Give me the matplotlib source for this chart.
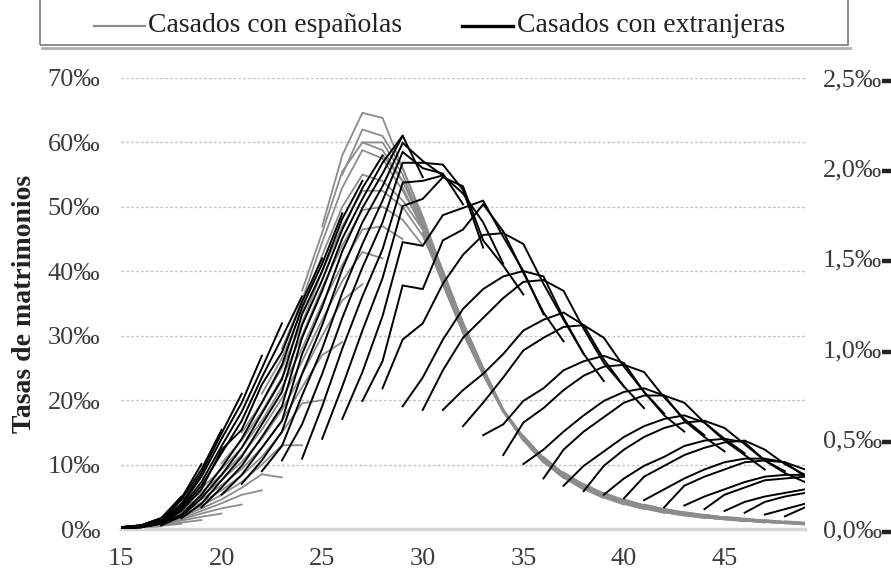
import matplotlib
matplotlib.use("Agg")
import matplotlib.pyplot as plt
from matplotlib.lines import Line2D
from matplotlib.patches import Rectangle
import numpy as np

plt.rcParams['font.family'] = ['Liberation Serif', 'DejaVu Serif']

edades = list(range(15, 50))

# tasas (‰) por año de observación (filas) y edad (columnas 15..49)
# hombres casados con españolas, eje izquierdo
espanolas = [
    [0.2, 0.6, 1.5, 3.4, 6.3, 10.2, 15.0, 21.0, 28.0, 37.0, 47.0, 55.0, 60.0, 58.0, 53.0, 46.0, 38.0, 30.5, 24.0, 18.5, 14.5, 11.2, 8.8, 7.0, 5.6, 4.6, 3.8, 3.1, 2.6, 2.2, 1.9, 1.6, 1.4, 1.2, 1.0],
    [0.2, 0.5, 1.3, 3.0, 5.7, 9.3, 13.8, 19.6, 26.5, 35.5, 46.0, 58.0, 62.0, 60.0, 54.0, 46.5, 38.0, 30.5, 24.0, 18.5, 14.3, 11.0, 8.6, 6.9, 5.5, 4.5, 3.7, 3.1, 2.6, 2.2, 1.8, 1.6, 1.3, 1.1, 1.0],
    [0.2, 0.5, 1.2, 2.7, 5.1, 8.4, 12.6, 18.2, 25.0, 34.0, 44.5, 55.5, 64.6, 61.0, 55.0, 47.0, 38.5, 30.5, 24.0, 18.5, 14.3, 11.0, 8.6, 6.8, 5.4, 4.4, 3.6, 3.0, 2.5, 2.1, 1.8, 1.5, 1.3, 1.1, 0.9],
    [0.15, 0.4, 1.1, 2.4, 4.6, 7.6, 11.5, 16.8, 23.5, 32.0, 42.5, 53.0, 60.0, 63.8, 56.0, 47.5, 38.5, 30.5, 24.0, 18.3, 14.2, 10.9, 8.5, 6.7, 5.3, 4.3, 3.5, 2.9, 2.4, 2.0, 1.7, 1.5, 1.3, 1.1, 0.9],
    [0.15, 0.4, 1.0, 2.1, 4.1, 6.8, 10.4, 15.4, 22.0, 30.0, 40.0, 50.0, 58.8, 58.8, 56.0, 48.0, 39.0, 31.0, 24.0, 18.3, 14.0, 10.8, 8.4, 6.6, 5.2, 4.2, 3.4, 2.8, 2.3, 2.0, 1.7, 1.4, 1.2, 1.0, 0.9],
    [0.1, 0.3, 0.9, 1.9, 3.6, 6.0, 9.3, 14.0, 20.3, 28.0, 37.5, 47.0, 55.0, 57.5, 54.0, 48.5, 39.5, 31.0, 24.0, 18.2, 14.0, 10.7, 8.3, 6.5, 5.1, 4.1, 3.4, 2.8, 2.3, 1.9, 1.6, 1.4, 1.2, 1.0, 0.8],
    [0.1, 0.3, 0.8, 1.7, 3.2, 5.3, 8.3, 12.6, 18.5, 26.0, 35.0, 44.0, 52.5, 54.0, 52.5, 48.0, 40.0, 31.5, 24.5, 18.2, 13.9, 10.6, 8.2, 6.4, 5.0, 4.1, 3.3, 2.7, 2.2, 1.9, 1.6, 1.4, 1.2, 1.0, 0.8],
    [0.1, 0.25, 0.7, 1.5, 2.8, 4.6, 7.3, 11.2, 16.8, 24.0, 32.5, 41.0, 49.5, 52.5, 51.0, 47.0, 40.0, 32.0, 24.5, 18.2, 13.8, 10.5, 8.1, 6.3, 5.0, 4.0, 3.3, 2.7, 2.2, 1.8, 1.6, 1.3, 1.1, 1.0, 0.8],
    [0.1, 0.2, 0.6, 1.3, 2.4, 4.0, 6.4, 10.0, 15.0, 22.0, 30.0, 38.5, 46.5, 50.0, 50.0, 46.5, 40.0, 32.0, 25.0, 18.5, 13.8, 10.5, 8.0, 6.3, 4.9, 4.0, 3.2, 2.6, 2.2, 1.8, 1.5, 1.3, 1.1, 0.9, 0.8],
    [0.05, 0.2, 0.5, 1.0, 1.9, 3.2, 5.3, 8.5, 13.0, 19.5, 27.0, 35.5, 43.0, 47.0, 48.0, 45.5, 39.5, 32.0, 25.0, 18.5, 13.8, 10.4, 8.0, 6.2, 4.9, 3.9, 3.2, 2.6, 2.1, 1.8, 1.5, 1.3, 1.1, 0.9, 0.7],
    [0.05, 0.15, 0.4, 0.8, 1.4, 2.4, 3.8, 6.0, 8.0, 13.0, 20.0, 29.0, 38.0, 42.0, 45.0, 44.0, 38.5, 31.5, 25.0, 18.5, 13.7, 10.3, 7.9, 6.1, 4.8, 3.8, 3.1, 2.5, 2.1, 1.7, 1.5, 1.2, 1.0, 0.9, 0.7],
]

# hombres casados con extranjeras, eje derecho
# aquí cada fila es una edad (15..49) y cada columna un año de observación
extranjeras = [
    [0.00, 0.00, 0.01, 0.01, 0.01, 0.01, 0.01, 0.01, 0.01, 0.01, 0.01],  # 15
    [0.01, 0.01, 0.01, 0.01, 0.01, 0.01, 0.02, 0.02, 0.02, 0.02, 0.02],
    [0.02, 0.03, 0.03, 0.03, 0.04, 0.04, 0.05, 0.05, 0.06, 0.06, 0.06],
    [0.06, 0.07, 0.08, 0.10, 0.11, 0.12, 0.13, 0.14, 0.16, 0.17, 0.18],
    [0.12, 0.14, 0.17, 0.19, 0.22, 0.24, 0.26, 0.29, 0.31, 0.33, 0.36],
    [0.19, 0.23, 0.27, 0.30, 0.34, 0.44, 0.42, 0.46, 0.50, 0.53, 0.55],  # 20
    [0.25, 0.30, 0.35, 0.40, 0.45, 0.50, 0.55, 0.60, 0.65, 0.70, 0.75],
    [0.32, 0.38, 0.45, 0.51, 0.58, 0.64, 0.70, 0.80, 0.84, 0.89, 0.96],
    [0.38, 0.46, 0.54, 0.60, 0.68, 0.76, 0.83, 0.91, 0.98, 1.06, 1.14],
    [0.39, 0.58, 0.74, 0.86, 0.97, 1.06, 1.13, 1.19, 1.23, 1.26, 1.29],
    [0.50, 0.68, 0.86, 1.00, 1.13, 1.23, 1.32, 1.38, 1.43, 1.47, 1.50],  # 25
    [0.61, 0.79, 1.00, 1.17, 1.31, 1.44, 1.54, 1.61, 1.66, 1.72, 1.75],
    [0.71, 0.87, 1.10, 1.29, 1.45, 1.58, 1.70, 1.78, 1.83, 1.89, 1.93],
    [0.78, 0.93, 1.18, 1.39, 1.55, 1.70, 1.82, 1.90, 1.97, 2.03, 2.07],
    [0.68, 1.05, 1.35, 1.59, 1.79, 1.92, 2.03, 2.09, 2.14, 2.18, 2.18],
    [0.66, 0.84, 1.14, 1.33, 1.57, 1.83, 1.93, 2.03, 2.00, 2.04, 1.95],  # 30
    [0.66, 0.88, 1.05, 1.36, 1.60, 1.74, 1.95, 1.96, 2.02, 1.97, 1.96],
    [0.57, 0.77, 1.06, 1.22, 1.52, 1.66, 1.78, 1.90, 1.86, 1.88, 1.80],
    [0.52, 0.70, 0.86, 1.17, 1.33, 1.63, 1.80, 1.82, 1.60, 1.70, 1.56],
    [0.41, 0.58, 0.84, 0.97, 1.28, 1.40, 1.64, 1.65, 1.62, 1.46, 1.47],
    [0.36, 0.59, 0.71, 0.99, 1.10, 1.37, 1.43, 1.58, 1.42, 1.43, 1.30],  # 35
    [0.28, 0.44, 0.67, 0.78, 1.06, 1.16, 1.38, 1.40, 1.36, 1.20, 1.19],
    [0.24, 0.44, 0.54, 0.77, 0.88, 1.12, 1.20, 1.32, 1.17, 1.16, 1.04],
    [0.21, 0.35, 0.54, 0.63, 0.85, 0.93, 1.13, 1.13, 1.11, 0.97, 0.97],
    [0.19, 0.35, 0.43, 0.62, 0.71, 0.90, 0.96, 1.06, 0.94, 0.92, 0.82],
    [0.17, 0.28, 0.44, 0.51, 0.70, 0.76, 0.91, 0.92, 0.90, 0.79, 0.79],  # 40
    [0.16, 0.29, 0.35, 0.51, 0.57, 0.74, 0.78, 0.87, 0.76, 0.76, 0.67],
    [0.12, 0.22, 0.35, 0.40, 0.56, 0.61, 0.74, 0.74, 0.73, 0.63, 0.64],
    [0.13, 0.24, 0.28, 0.41, 0.46, 0.59, 0.63, 0.70, 0.60, 0.61, 0.54],
    [0.11, 0.18, 0.29, 0.33, 0.45, 0.49, 0.60, 0.59, 0.59, 0.51, 0.52],
    [0.10, 0.19, 0.22, 0.33, 0.37, 0.48, 0.50, 0.56, 0.49, 0.50, 0.43],  # 45
    [0.09, 0.15, 0.23, 0.26, 0.37, 0.39, 0.49, 0.48, 0.47, 0.41, 0.42],
    [0.08, 0.15, 0.18, 0.27, 0.29, 0.38, 0.39, 0.44, 0.38, 0.38, 0.33],
    [0.07, 0.11, 0.18, 0.20, 0.28, 0.30, 0.37, 0.37, 0.36, 0.31, 0.32],
    [0.06, 0.12, 0.14, 0.20, 0.22, 0.29, 0.30, 0.33, 0.29, 0.30, 0.26],  # 49
]

izq_ticks = [0, 10, 20, 30, 40, 50, 60, 70]
der_ticks = [0.0, 0.5, 1.0, 1.5, 2.0, 2.5]
x_ticks = [15, 20, 25, 30, 35, 40, 45]

GRIS = '#8c8c8c'
TEXTO = '#3c3c3c'
W, H = 891, 571


def cohortes(tabla):
    # una línea por generación: misma diferencia edad - año
    tabla = np.asarray(tabla)
    n = tabla.shape[0]
    e0, e1 = edades[0], edades[-1]
    for d in range(e0 - n + 1, e1 + 1):
        xs, ys = [], []
        for a in range(n):
            e = d + a
            if e0 <= e <= e1:
                xs.append(e)
                ys.append(tabla[a, e - e0])
        if len(xs) > 1:
            yield xs, ys


fig = plt.figure(figsize=(W / 100, H / 100), dpi=100)
ax = fig.add_axes([121 / W, 42 / H, 684 / W, 451 / H])
ax2 = ax.twinx()

for xs, ys in cohortes(espanolas):
    ax.plot(xs, ys, color=GRIS, lw=1.3, solid_joinstyle='miter')
for xs, ys in cohortes(np.array(extranjeras).T):
    ax2.plot(xs, ys, color='black', lw=1.4, solid_joinstyle='miter')

ax.set_xlim(15, 49)
ax.set_ylim(0, 70)
ax2.set_ylim(0, 2.5)

ax.set_yticks(izq_ticks)
ax.set_yticklabels([f'{v}‰' for v in izq_ticks])
ax2.set_yticks(der_ticks)
ax2.set_yticklabels([f'{v:.1f}‰'.replace('.', ',') for v in der_ticks])
ax.set_xticks(x_ticks)
ax.set_xticklabels([str(v) for v in x_ticks])

ax.tick_params(axis='y', length=0, pad=15, labelsize=19, labelcolor=TEXTO)
ax.tick_params(axis='x', length=0, pad=14, labelsize=19, labelcolor=TEXTO)
ax2.tick_params(axis='y', length=0, pad=13, labelsize=19, labelcolor=TEXTO)

ax.grid(axis='y', color='#c4c4c4', lw=1.0, linestyle=(0, (2, 1.5)))
ax.set_axisbelow(True)
for s in ['left', 'right', 'top']:
    ax.spines[s].set_visible(False)
    ax2.spines[s].set_visible(False)
ax2.spines['bottom'].set_visible(False)
ax.spines['bottom'].set_color('#d6d6d6')
ax.spines['bottom'].set_linewidth(2.5)

ax.set_ylabel('Tasas de matrimonios', fontsize=20, fontweight='bold', color='#222222')
ax.yaxis.set_label_coords(-0.123, 0.5)

# marcas a la derecha de las etiquetas del eje secundario
for v in der_ticks:
    yp = 529 - v / 2.5 * 451 + 3
    fig.add_artist(Line2D([882 / W, 891 / W], [1 - yp / H, 1 - yp / H],
                          color='#222222', lw=3.2, solid_capstyle='butt'))

# leyenda enmarcada en la parte superior
fig.add_artist(Rectangle((40 / W, 1 - 45 / H), 808 / W, 0.2,
                         transform=fig.transFigure, fill=False,
                         edgecolor='#7a7a7a', lw=1.2, clip_on=False))
fig.add_artist(Line2D([42 / W, 850 / W], [1 - 47.5 / H, 1 - 47.5 / H],
                      color='#b0b0b0', lw=2))
yl = 1 - 26 / H
fig.add_artist(Line2D([94 / W, 145 / W], [yl, yl], color=GRIS, lw=1.6))
fig.text(148 / W, yl, 'Casados con españolas', fontsize=20, va='center', ha='left', color='#222222')
fig.add_artist(Line2D([462 / W, 513 / W], [yl, yl], color='black', lw=2.4))
fig.text(517 / W, yl, 'Casados con extranjeras', fontsize=20, va='center', ha='left', color='#222222')

fig.savefig('out.png', dpi=100)
